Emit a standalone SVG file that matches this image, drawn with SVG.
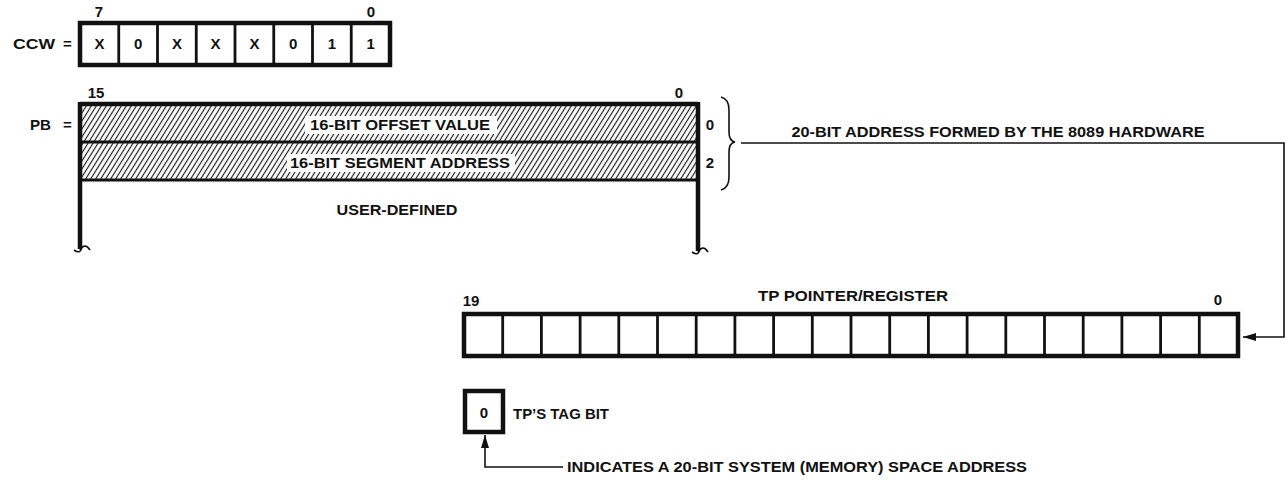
<svg xmlns="http://www.w3.org/2000/svg" width="1288" height="480" viewBox="0 0 1288 480">
<style>
text{font-family:"Liberation Sans",Arial,sans-serif;font-weight:bold;font-size:15px;fill:#111}
.c{text-anchor:middle}
.thick{fill:none;stroke:#111;stroke-width:4.5}
.div{stroke:#111;stroke-width:2.8}
.thin{fill:none;stroke:#111;stroke-width:1.6}
</style>
<defs>
<pattern id="hatch" width="5" height="10" patternUnits="userSpaceOnUse" patternTransform="skewX(-32)">
<rect width="5" height="10" fill="#fff"/>
<line x1="2.5" y1="0" x2="2.5" y2="10" stroke="#111" stroke-width="1.3"/>
</pattern>
<marker id="ah" markerWidth="14" markerHeight="10" refX="13" refY="5" orient="auto" markerUnits="userSpaceOnUse">
<path d="M0,1 L13,5 L0,9 Z" fill="#111"/>
</marker>
</defs>
<rect width="1288" height="480" fill="#fff"/>

<g id="ccw">
<text x="13" y="49" textLength="42" lengthAdjust="spacingAndGlyphs">CCW</text>
<text x="63" y="49">=</text>
<text x="99" y="17" class="c">7</text>
<text x="371" y="17" class="c">0</text>
<rect x="80" y="23" width="310" height="42" class="thick"/>
<g class="div">
<line x1="118.75" y1="23" x2="118.75" y2="65"/>
<line x1="157.5" y1="23" x2="157.5" y2="65"/>
<line x1="196.25" y1="23" x2="196.25" y2="65"/>
<line x1="235" y1="23" x2="235" y2="65"/>
<line x1="273.75" y1="23" x2="273.75" y2="65"/>
<line x1="312.5" y1="23" x2="312.5" y2="65"/>
<line x1="351.25" y1="23" x2="351.25" y2="65"/>
</g>
<text x="99.4" y="49" class="c">X</text>
<text x="138.1" y="49" class="c">0</text>
<text x="176.9" y="49" class="c">X</text>
<text x="215.6" y="49" class="c">X</text>
<text x="254.4" y="49" class="c">X</text>
<text x="293.1" y="49" class="c">0</text>
<text x="331.9" y="49" class="c">1</text>
<text x="370.6" y="49" class="c">1</text>
</g>

<g id="pb">
<text x="30" y="130" textLength="21" lengthAdjust="spacingAndGlyphs">PB</text>
<text x="63" y="130">=</text>
<text x="96" y="98" class="c">15</text>
<text x="679" y="98" class="c">0</text>
<rect x="80" y="104" width="618" height="38" fill="url(#hatch)"/>
<rect x="80" y="142" width="618" height="38" fill="url(#hatch)"/>
<rect x="305" y="116" width="192" height="18" fill="#fff"/>
<rect x="287" y="154" width="228" height="18" fill="#fff"/>
<text x="400" y="130" class="c" textLength="180" lengthAdjust="spacingAndGlyphs">16-BIT OFFSET VALUE</text>
<text x="400" y="168" class="c" textLength="220" lengthAdjust="spacingAndGlyphs">16-BIT SEGMENT ADDRESS</text>
<path d="M80,104 H698" class="thick"/>
<path d="M80,142 H698 M80,180 H698" class="div"/>
<path d="M80,102 V249 M698,102 V251" class="thick"/>
<path d="M82,246 Q81,255 74,250 M80,250 Q85,242 90,250" class="thin" stroke-width="2.2"/>
<path d="M700,248 Q699,257 692,252 M698,252 Q703,244 708,252" class="thin" stroke-width="2.2"/>
<text x="397" y="215" class="c" textLength="121" lengthAdjust="spacingAndGlyphs">USER-DEFINED</text>
<text x="710" y="130" class="c">0</text>
<text x="710" y="168" class="c">2</text>
<path d="M721,97 Q729,99 729,110 L729,132 Q729,141 735,142 Q729,143 729,152 L729,177 Q729,188 721,190" class="thin" stroke-width="2.2"/>
</g>

<g id="tp">
<text x="853" y="301" class="c" textLength="190" lengthAdjust="spacingAndGlyphs">TP POINTER/REGISTER</text>
<text x="471" y="306" class="c">19</text>
<text x="1218" y="305" class="c">0</text>
<rect x="464" y="314" width="774" height="42" class="thick"/>
<g class="div">
<line x1="502.7" y1="314" x2="502.7" y2="356"/>
<line x1="541.4" y1="314" x2="541.4" y2="356"/>
<line x1="580.1" y1="314" x2="580.1" y2="356"/>
<line x1="618.8" y1="314" x2="618.8" y2="356"/>
<line x1="657.5" y1="314" x2="657.5" y2="356"/>
<line x1="696.2" y1="314" x2="696.2" y2="356"/>
<line x1="734.9" y1="314" x2="734.9" y2="356"/>
<line x1="773.6" y1="314" x2="773.6" y2="356"/>
<line x1="812.3" y1="314" x2="812.3" y2="356"/>
<line x1="851" y1="314" x2="851" y2="356"/>
<line x1="889.7" y1="314" x2="889.7" y2="356"/>
<line x1="928.4" y1="314" x2="928.4" y2="356"/>
<line x1="967.1" y1="314" x2="967.1" y2="356"/>
<line x1="1005.8" y1="314" x2="1005.8" y2="356"/>
<line x1="1044.5" y1="314" x2="1044.5" y2="356"/>
<line x1="1083.2" y1="314" x2="1083.2" y2="356"/>
<line x1="1121.9" y1="314" x2="1121.9" y2="356"/>
<line x1="1160.6" y1="314" x2="1160.6" y2="356"/>
<line x1="1199.3" y1="314" x2="1199.3" y2="356"/>
</g>
</g>

<g id="tag">
<rect x="465" y="391" width="38" height="41" class="thick" stroke-width="5"/>
<text x="484" y="418" class="c">0</text>
<text x="513" y="419" textLength="96" lengthAdjust="spacingAndGlyphs">TP’S TAG BIT</text>
</g>

<g id="connectors">
<path d="M741,143 H1284 V337 H1243" class="thin" marker-end="url(#ah)"/>
<text x="998" y="137" class="c" textLength="413" lengthAdjust="spacingAndGlyphs">20-BIT ADDRESS FORMED BY THE 8089 HARDWARE</text>
<path d="M563,467 H485 V435" class="thin" marker-end="url(#ah)"/>
<text x="567" y="472" textLength="460" lengthAdjust="spacingAndGlyphs">INDICATES A 20-BIT SYSTEM (MEMORY) SPACE ADDRESS</text>
</g>
</svg>
